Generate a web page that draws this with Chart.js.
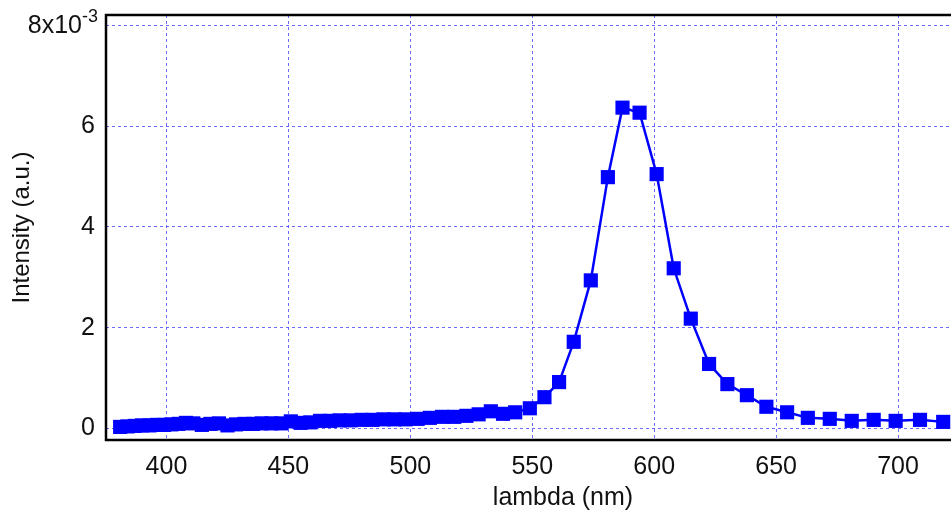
<!DOCTYPE html>
<html>
<head>
<meta charset="utf-8">
<script src="https://cdn.jsdelivr.net/npm/chart.js@4/dist/chart.umd.min.js"></script>
<style>
  html, body { margin: 0; padding: 0; background: #fff; overflow: hidden; }
  #wrap { width: 1030px; height: 513px; position: relative; }
</style>
</head>
<body>
<div id="wrap"><canvas id="spectrum"></canvas></div>
<script>
// wavelength in nm, intensity in units of 1e-3 (a.u.)
const wavelengths = [381, 384, 387, 390, 393, 396, 399, 402, 405, 408, 411, 414.5, 418, 421.5, 425, 428.5,
  432, 435.5, 439, 443, 447, 451, 455, 459, 463, 467, 471, 475.5, 480, 484.5, 489, 493.5, 498, 503,
  508, 513, 518, 523, 528, 533, 538, 543, 549, 555, 561, 567, 574, 581, 587, 594, 601, 608, 615,
  622.5, 630, 638, 646, 654.5, 663, 672, 681, 690, 699, 709, 718.5];
const intensity = [0.03, 0.04, 0.05, 0.06, 0.06, 0.07, 0.07, 0.08, 0.09, 0.11, 0.10, 0.07, 0.09, 0.10, 0.06, 0.08,
  0.09, 0.09, 0.10, 0.10, 0.10, 0.14, 0.11, 0.12, 0.15, 0.15, 0.16, 0.16, 0.17, 0.17, 0.18, 0.18, 0.18, 0.19,
  0.21, 0.23, 0.23, 0.25, 0.28, 0.34, 0.29, 0.32, 0.40, 0.62, 0.92, 1.72, 2.94, 4.99, 6.37, 6.27, 5.05, 3.18, 2.18,
  1.28, 0.88, 0.66, 0.43, 0.32, 0.21, 0.19, 0.15, 0.17, 0.15, 0.17, 0.13];
const xTicks = [400, 450, 500, 550, 600, 650, 700];
const yTicks = [0, 2, 4, 6, 8];

const points = wavelengths.map((w, i) => ({ x: w, y: intensity[i] }));

const FONT = '"Liberation Sans", Arial, Helvetica, sans-serif';
const gridBlue = 'rgba(90, 90, 255, 0.9)';

// black frame + the 8x10^-3 label with its superscript
const framePlugin = {
  id: 'frame',
  afterDraw(chart) {
    const { ctx, chartArea: a } = chart;
    ctx.save();
    ctx.strokeStyle = '#000';
    ctx.lineWidth = 2.5;
    ctx.beginPath();
    ctx.moveTo(a.right, a.top);
    ctx.lineTo(a.left, a.top);
    ctx.lineTo(a.left, a.bottom);
    ctx.lineTo(a.right, a.bottom);
    ctx.lineTo(a.right, a.top);
    ctx.stroke();

    const y8 = chart.scales.y.getPixelForValue(8);
    ctx.fillStyle = '#111';
    ctx.textBaseline = 'middle';
    ctx.textAlign = 'right';
    ctx.font = '25px ' + FONT;
    ctx.fillText('8x10', 82, y8 + 1);
    ctx.textAlign = 'left';
    ctx.font = '18px ' + FONT;
    ctx.fillText('-3', 82, y8 - 9);
    ctx.restore();
  }
};

const noPad = s => { s.paddingTop = 0; s.paddingBottom = 0; s.paddingLeft = 0; s.paddingRight = 0; };

new Chart(document.getElementById('spectrum'), {
  type: 'line',
  data: {
    datasets: [{
      data: points,
      borderColor: '#0000ff',
      backgroundColor: '#0000ff',
      borderWidth: 2.5,
      pointStyle: 'rect',
      pointRadius: 10,
      pointBorderWidth: 0,
      tension: 0
    }]
  },
  options: {
    responsive: true,
    maintainAspectRatio: false,
    animation: false,
    layout: { padding: { top: 15, right: 10, left: 0, bottom: 0 } },
    plugins: { legend: { display: false }, tooltip: { enabled: false } },
    scales: {
      x: {
        type: 'linear',
        min: 375.2,
        max: 750,
        afterBuildTicks: s => { s.ticks = xTicks.map(v => ({ value: v })); },
        afterFit: s => { s.height = 73; noPad(s); },
        grid: { color: gridBlue, lineWidth: 1, drawTicks: false },
        border: { display: false, dash: [3, 3] },
        ticks: { color: '#111', font: { family: FONT, size: 25 }, padding: 12, maxRotation: 0 },
        title: { display: true, text: 'lambda (nm)', color: '#111', font: { family: FONT, size: 25 }, padding: { top: 2, bottom: 0 } }
      },
      y: {
        min: -0.23,
        max: 8.21,
        afterBuildTicks: s => { s.ticks = yTicks.map(v => ({ value: v })); },
        afterFit: s => { s.width = 106; noPad(s); },
        grid: { color: gridBlue, lineWidth: 1, drawTicks: false },
        border: { display: false, dash: [3, 3] },
        ticks: { color: '#111', font: { family: FONT, size: 25 }, padding: 11,
          callback: v => (v === 8 ? '' : String(v)) },
        title: { display: true, text: 'Intensity (a.u.)', color: '#111', font: { family: FONT, size: 24 }, padding: { top: 8, bottom: 0 } }
      }
    }
  },
  plugins: [framePlugin]
});
</script>
</body>
</html>
